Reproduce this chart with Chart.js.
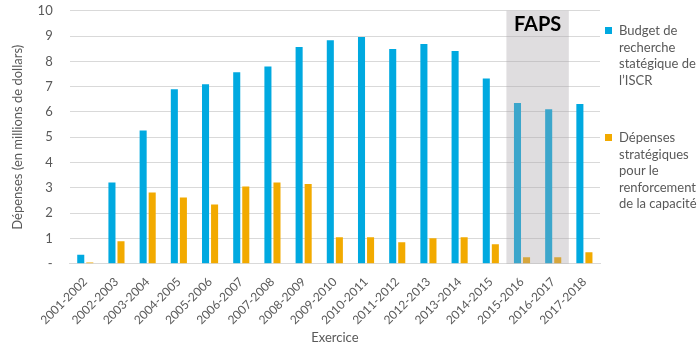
<!DOCTYPE html>
<html>
<head>
<meta charset="utf-8">
<script src="https://cdn.jsdelivr.net/npm/chart.js@4/dist/chart.umd.min.js"></script>
<style>
  body { margin: 0; background: #fff; }
  #wrap { position: relative; width: 700px; height: 350px; font-family: Lato, "Open Sans", sans-serif; }
  .leg { position: absolute; left: 605px; font-size: 13px; line-height: 16.6px; color: #595959; }
  .leg i { position: absolute; left: 0; top: 5px; width: 7px; height: 7px; }
  .leg span { display: block; margin-left: 14px; }
</style>
</head>
<body>
<div id="wrap">
  <canvas id="chart" width="700" height="350"></canvas>
  <div class="leg" style="top: 22px;"><i style="background:#00a9e0"></i><span>Budget de<br>recherche<br>statégique de<br>l’ISCR</span></div>
  <div class="leg" style="top: 129px;"><i style="background:#f2aa00"></i><span>Dépenses<br>stratégiques<br>pour le<br>renforcement<br>de la capacité</span></div>
</div>
<script>
// --- Data ---
const exercices = ['2001-2002', '2002-2003', '2003-2004', '2004-2005', '2005-2006', '2006-2007',
  '2007-2008', '2008-2009', '2009-2010', '2010-2011', '2011-2012', '2012-2013', '2013-2014',
  '2014-2015', '2015-2016', '2016-2017', '2017-2018'];
const budgetISCR = [0.35, 3.21, 5.27, 6.9, 7.1, 7.57, 7.8, 8.57, 8.84, 8.96, 8.49, 8.69, 8.41, 7.32, 6.35, 6.11, 6.31];
const depensesCapacite = [0.05, 0.89, 2.82, 2.62, 2.34, 3.05, 3.21, 3.15, 1.05, 1.05, 0.85, 1.01, 1.05, 0.77, 0.25, 0.25, 0.45];
const fapsPeriode = ['2015-2016', '2016-2017'];
const yTicks = ['-', '1', '2', '3', '4', '5', '6', '7', '8', '9', '10'];

// FAPS shaded band drawn over the bars
const fapsPlugin = {
  id: 'faps',
  afterDatasetsDraw(chart) {
    const { ctx, chartArea, scales } = chart;
    const i0 = exercices.indexOf(fapsPeriode[0]);
    const i1 = exercices.indexOf(fapsPeriode[fapsPeriode.length - 1]);
    const half = (scales.x.getPixelForValue(1) - scales.x.getPixelForValue(0)) / 2;
    const x0 = scales.x.getPixelForValue(i0) - half;
    const x1 = scales.x.getPixelForValue(i1) + half;
    ctx.save();
    ctx.fillStyle = 'rgba(165, 160, 165, 0.36)';
    ctx.fillRect(x0, chartArea.top, x1 - x0, chartArea.bottom - chartArea.top);
    ctx.fillStyle = '#000';
    ctx.font = 'bold 20px Lato, "Open Sans", sans-serif';
    ctx.textAlign = 'center';
    ctx.textBaseline = 'middle';
    ctx.fillText('FAPS', (x0 + x1) / 2, chartArea.top + 14);
    ctx.restore();
  }
};

const ctx = document.getElementById('chart').getContext('2d');
new Chart(ctx, {
  type: 'bar',
  data: {
    labels: exercices,
    datasets: [{
      label: 'Budget de recherche statégique de l’ISCR',
      data: budgetISCR,
      backgroundColor: '#00a9e0',
      categoryPercentage: 0.58,
      barPercentage: 0.78,
    }, {
      label: 'Dépenses stratégiques pour le renforcement de la capacité',
      data: depensesCapacite,
      backgroundColor: '#f2aa00',
      categoryPercentage: 0.58,
      barPercentage: 0.78,
    }]
  },
  options: {
    responsive: false,
    animation: false,
    layout: { padding: { top: 0, right: 100, left: 6 } },
    plugins: {
      legend: { display: false },
      tooltip: { enabled: false },
    },
    scales: {
      x: {
        grid: { display: false },
        border: { color: '#d9d9d9' },
        ticks: {
          color: '#595959',
          font: { family: 'Lato', size: 12 },
          minRotation: 45,
          maxRotation: 45,
          autoSkip: false,
        },
        title: {
          display: true,
          text: 'Exercice',
          color: '#595959',
          font: { family: 'Lato', size: 13 },
          padding: { top: 0 },
        },
      },
      y: {
        min: 0,
        max: 10,
        grid: { color: '#d9d9d9', drawTicks: true, tickColor: 'rgba(0,0,0,0)', tickLength: 14 },
        border: { display: false },
        ticks: {
          stepSize: 1,
          padding: 3,
          color: '#595959',
          font: { family: 'Lato', size: 13 },
          callback: (v) => yTicks[v],
        },
        title: {
          display: true,
          text: 'Dépenses (en millions de dollars)',
          color: '#595959',
          font: { family: 'Lato', size: 13 },
          padding: { top: 4, bottom: 9 },
        },
      },
    },
  },
  plugins: [fapsPlugin],
});
</script>
</body>
</html>
